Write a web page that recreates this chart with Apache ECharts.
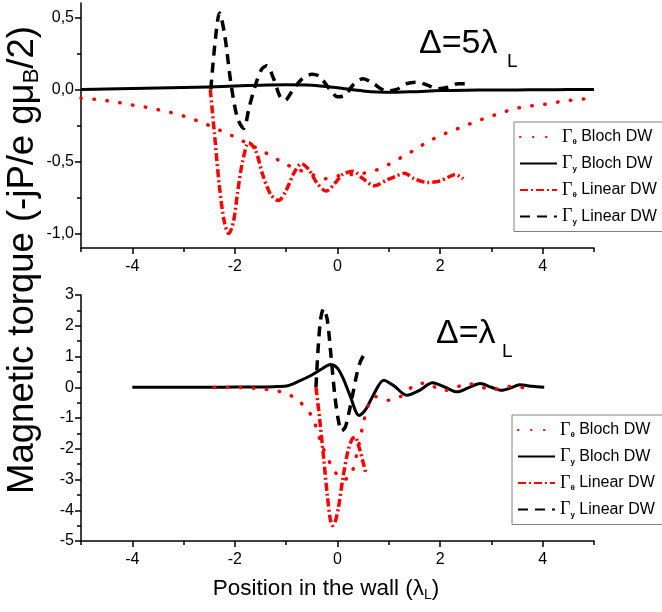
<!DOCTYPE html>
<html><head><meta charset="utf-8">
<script src="https://cdn.jsdelivr.net/npm/echarts@6/dist/echarts.min.js"></script>
<style>html,body{margin:0;padding:0;background:#fff}#c{width:662px;height:612px}</style>
</head><body><div id="c"></div>
<script>
// ===== Top panel (Δ=5λL) =====
const topBlochThetaX = [-5,-4.75,-4.5,-4.25,-4,-3.75,-3.5,-3.25,-3,-2.75,-2.5,-2.25,-2,-1.75,-1.5,-1.25,-1,-0.75,-0.5,-0.25,0,0.25,0.5,0.75,1,1.25,1.5,1.75,2,2.25,2.5,2.75,3,3.25,3.5,3.75,4,4.25,4.5,4.75,5];
const topBlochThetaY = [-0.06,-0.068,-0.078,-0.092,-0.108,-0.122,-0.14,-0.16,-0.185,-0.215,-0.25,-0.29,-0.33,-0.375,-0.42,-0.47,-0.52,-0.558,-0.59,-0.62,-0.6,-0.59,-0.582,-0.56,-0.52,-0.47,-0.42,-0.365,-0.32,-0.285,-0.25,-0.215,-0.185,-0.155,-0.13,-0.115,-0.105,-0.09,-0.077,-0.068,-0.06];
const topBlochYX = [-5,-4.5,-4,-3.5,-3,-2.5,-2,-1.5,-1,-0.5,0,0.5,1,1.5,2,2.5,3,3.5,4,4.5,5];
const topBlochYY = [0,0.003,0.006,0.01,0.014,0.018,0.024,0.03,0.033,0.03,0.012,-0.01,-0.02,-0.015,-0.008,-0.005,-0.004,-0.003,-0.002,-0.001,0];
const topLinearThetaX = [-2.48,-2.4,-2.3,-2.2,-2.12,-2.03,-1.95,-1.85,-1.73,-1.6,-1.45,-1.3,-1.15,-1.0,-0.85,-0.7,-0.55,-0.4,-0.22,-0.05,0.1,0.3,0.5,0.72,0.95,1.15,1.3,1.5,1.75,2.0,2.15,2.3,2.45];
const topLinearThetaY = [0,-0.3,-0.68,-0.93,-1.0,-0.92,-0.72,-0.5,-0.37,-0.42,-0.6,-0.73,-0.77,-0.7,-0.58,-0.515,-0.56,-0.65,-0.705,-0.65,-0.59,-0.568,-0.62,-0.668,-0.63,-0.6,-0.582,-0.62,-0.645,-0.635,-0.61,-0.59,-0.62];
const topLinearYX = [-2.47,-2.38,-2.3,-2.2,-2.08,-1.95,-1.83,-1.72,-1.6,-1.48,-1.38,-1.25,-1.12,-1.02,-0.9,-0.7,-0.5,-0.35,-0.15,0.0,0.15,0.3,0.5,0.7,0.95,1.15,1.35,1.55,1.75,1.95,2.15,2.35,2.5];
const topLinearYY = [0,0.35,0.53,0.38,0.05,-0.2,-0.27,-0.12,0.03,0.14,0.165,0.08,-0.05,-0.075,-0.02,0.07,0.105,0.09,0.0,-0.05,-0.04,0.03,0.075,0.04,-0.01,0.0,0.04,0.05,0.03,0.005,0.015,0.04,0.04];

// ===== Bottom panel (Δ=λL) =====
const botBlochYX = [-4,-3.5,-3,-2.5,-2,-1.5,-1.25,-1,-0.75,-0.5,-0.3,-0.14,0,0.12,0.25,0.42,0.55,0.7,0.9,1.1,1.35,1.6,1.85,2.1,2.33,2.55,2.78,3.0,3.2,3.38,3.55,3.8,4.03];
const botBlochYY = [0,0,0,0,0.005,0.01,0.02,0.04,0.2,0.4,0.6,0.74,0.62,0.25,-0.3,-0.92,-0.72,-0.25,0.23,0.05,-0.26,-0.1,0.15,0.0,-0.15,-0.02,0.12,0.0,-0.1,-0.02,0.08,0.03,0.0];
const botBlochThetaX = [-2.4,-2,-1.75,-1.5,-1.25,-1,-0.75,-0.5,-0.3,-0.1,0.1,0.25,0.4,0.5,0.6,0.72,0.85,0.97,1.1,1.23,1.36,1.49,1.62,1.75,1.88,2.0,2.13,2.26,2.39,2.52,2.65,2.77,2.9,3.03,3.16,3.29,3.42,3.55,3.68,3.8];
const botBlochThetaY = [0,0,-0.02,-0.05,-0.1,-0.2,-0.45,-0.95,-1.9,-2.6,-3.0,-2.9,-2.0,-1.2,-0.6,-0.3,-0.35,-0.42,-0.4,-0.3,-0.12,0.06,0.13,0.12,0.02,-0.1,-0.1,-0.04,0.05,0.12,0.09,0.03,-0.04,-0.08,-0.04,0.01,0.03,0.0,-0.02,-0.04];
const botLinearThetaX = [-0.42,-0.35,-0.27,-0.2,-0.14,-0.1,-0.05,0.02,0.1,0.2,0.28,0.34,0.42,0.5,0.55];
const botLinearThetaY = [0,-1.0,-2.3,-3.5,-4.3,-4.5,-4.4,-3.9,-3.0,-2.1,-1.7,-1.62,-1.95,-2.45,-2.78];
const botLinearYX = [-0.42,-0.38,-0.33,-0.27,-0.2,-0.12,-0.05,0.02,0.08,0.15,0.22,0.3,0.38,0.45,0.53];
const botLinearYY = [0,1.2,2.2,2.55,2.2,0.9,-0.3,-1.1,-1.42,-1.3,-0.85,-0.2,0.45,0.85,1.09];

// ===== Axis ticks / labels =====
const xMajor = [-4,-2,0,2,4];
const xMinor = [-5,-3,-1,1,3,5];
const topYMajor = [-1,-0.5,0,0.5];
const topYMinor = [-0.75,-0.25,0.25];

const legendNames = ['Γθ Bloch DW','Γy Bloch DW','Γθ Linear DW','Γy Linear DW'];
const legendSubs = ['θ','y','θ','y'];
const legendRest = [' Bloch DW',' Bloch DW',' Linear DW',' Linear DW'];

const pairs = (xs, ys) => xs.map((x, i) => [x, ys[i]]);
const FONT = 'Liberation Sans, Arial, sans-serif';
const styles = [
  {color:'#ff0000', width:3.5, type:[0.5,12.5], cap:'round'},
  {color:'#000000', width:3, type:'solid'},
  {color:'#ff0000', width:3.5, type:[8,3,2,3], cap:'butt'},
  {color:'#000000', width:3.5, type:[10,7], cap:'butt'}
];

function mkX(gi, major) {
  return major ? {
    type:'value', gridIndex:gi, min:-5, max:5, position:'bottom',
    axisLine:{onZero:false, lineStyle:{color:'#000', width:1.5}},
    axisTick:{customValues:xMajor, length:6, lineStyle:{color:'#000', width:1.5}},
    axisLabel:{customValues:xMajor, margin:11, color:'#000', fontSize:16, fontFamily:FONT},
    splitLine:{show:false}
  } : {
    type:'value', gridIndex:gi, min:-5, max:5, position:'bottom',
    axisLine:{show:false, onZero:false},
    axisTick:{customValues:xMinor, length:4, lineStyle:{color:'#000', width:1.5}},
    axisLabel:{show:false}, splitLine:{show:false}
  };
}

const series = [];
function addSeries(name, idx, xi, yi, xs, ys, smooth) {
  const s = styles[idx];
  series.push({
    name, type:'line', xAxisIndex:xi, yAxisIndex:yi, data:pairs(xs, ys),
    symbol:'none', showSymbol:false, smooth: smooth ? 0.3 : false, z: 10-idx,
    lineStyle:{color:s.color, width:s.width, type:s.type, cap:s.cap || 'butt', join:'round'},
    itemStyle:{color:s.color}
  });
}
addSeries(legendNames[0], 0, 0, 0, topBlochThetaX, topBlochThetaY, true);
addSeries(legendNames[1], 1, 0, 0, topBlochYX, topBlochYY, true);
addSeries(legendNames[2], 2, 0, 0, topLinearThetaX, topLinearThetaY, true);
addSeries(legendNames[3], 3, 0, 0, topLinearYX, topLinearYY, true);
addSeries(legendNames[0], 0, 2, 2, botBlochThetaX, botBlochThetaY, true);
addSeries(legendNames[1], 1, 2, 2, botBlochYX, botBlochYY, true);
addSeries(legendNames[2], 2, 2, 2, botLinearThetaX, botLinearThetaY, true);
addSeries(legendNames[3], 3, 2, 2, botLinearYX, botLinearYY, true);

function mkLegend(left, top) {
  return {
    data: legendNames, orient:'vertical', left, top,
    itemWidth:37, itemHeight:12, itemGap:8.5,
    padding:[6,12,6,5], borderColor:'#808080', borderWidth:1,
    selectedMode:false, backgroundColor:'#fff',
    itemStyle:{opacity:0},
    formatter: name => { const i = legendNames.indexOf(name); return '{g|Γ}{s|' + legendSubs[i] + '}{t|' + legendRest[i] + '}'; },
    textStyle:{
      color:'#000', fontFamily:FONT, fontSize:16,
      rich:{
        g:{fontFamily:'Liberation Serif, Times New Roman, serif', fontSize:18, lineHeight:18, color:'#000'},
        s:{fontFamily:FONT, fontSize:8, lineHeight:8, verticalAlign:'bottom', color:'#000', fontWeight:'bold'},
        t:{fontFamily:FONT, fontSize:16, lineHeight:18, color:'#000'}
      }
    }
  };
}

const chart = echarts.init(document.getElementById('c'), null, {renderer:'canvas'});
chart.setOption({
  backgroundColor:'#fff',
  animation:false,
  grid:[
    {left:81, top:3, width:513, height:245},
    {left:81, top:295, width:513, height:246}
  ],
  xAxis:[mkX(0,true), mkX(0,false), mkX(1,true), mkX(1,false)],
  yAxis:[
    {type:'value', gridIndex:0, min:-1.1, max:0.6, position:'left',
     axisLine:{show:true, onZero:false, lineStyle:{color:'#000', width:1.5}},
     axisTick:{show:true, customValues:topYMajor, length:6, lineStyle:{color:'#000', width:1.5}},
     axisLabel:{customValues:topYMajor, margin:7, color:'#000', fontSize:16, fontFamily:FONT,
       formatter: v => v.toFixed(1).replace('.', ',')},
     splitLine:{show:false}},
    {type:'value', gridIndex:0, min:-1.1, max:0.6, position:'left',
     axisLine:{show:false, onZero:false},
     axisTick:{show:true, customValues:topYMinor, length:4, lineStyle:{color:'#000', width:1.5}},
     axisLabel:{show:false}, splitLine:{show:false}},
    {type:'value', gridIndex:1, min:-5, max:3, interval:1, position:'left',
     axisLine:{show:true, onZero:false, lineStyle:{color:'#000', width:1.5}},
     axisTick:{show:true, length:6, lineStyle:{color:'#000', width:1.5}},
     minorTick:{show:true, splitNumber:2, length:4, lineStyle:{color:'#000', width:1.5}},
     axisLabel:{margin:7, color:'#000', fontSize:16, fontFamily:FONT},
     splitLine:{show:false}}
  ],
  legend:[mkLegend(514, 122), mkLegend(512, 415)],
  series,
  graphic:[
    {type:'text', x:23, y:260, rotation:Math.PI/2, z:100,
     style:{text:'{a|Magnetic torque (-jP/e gμ}{b|B}{a|/2)}', align:'center', verticalAlign:'middle',
       rich:{a:{fontSize:36.5, fontFamily:FONT, color:'#000', lineHeight:40},
             b:{fontSize:22, fontFamily:FONT, color:'#000', lineHeight:22, verticalAlign:'bottom'}}}},
    {type:'text', x:326, y:589, z:100,
     style:{text:'{a|Position in the wall (λ}{b|L}{a|)}', align:'center', verticalAlign:'middle',
       rich:{a:{fontSize:22.5, fontFamily:FONT, color:'#000', lineHeight:26},
             b:{fontSize:14, fontFamily:FONT, color:'#000', lineHeight:14, verticalAlign:'bottom'}}}},
    {type:'text', x:419, y:44, z:100,
     style:{text:'Δ=5λ', fontSize:34, fontFamily:FONT, fill:'#000', align:'left', verticalAlign:'middle'}},
    {type:'text', x:507, y:62, z:100,
     style:{text:'L', fontSize:19, fontFamily:FONT, fill:'#000', align:'left', verticalAlign:'middle'}},
    {type:'text', x:436, y:334, z:100,
     style:{text:'Δ=λ', fontSize:34, fontFamily:FONT, fill:'#000', align:'left', verticalAlign:'middle'}},
    {type:'text', x:502, y:352, z:100,
     style:{text:'L', fontSize:19, fontFamily:FONT, fill:'#000', align:'left', verticalAlign:'middle'}}
  ]
});
</script>
</body></html>
